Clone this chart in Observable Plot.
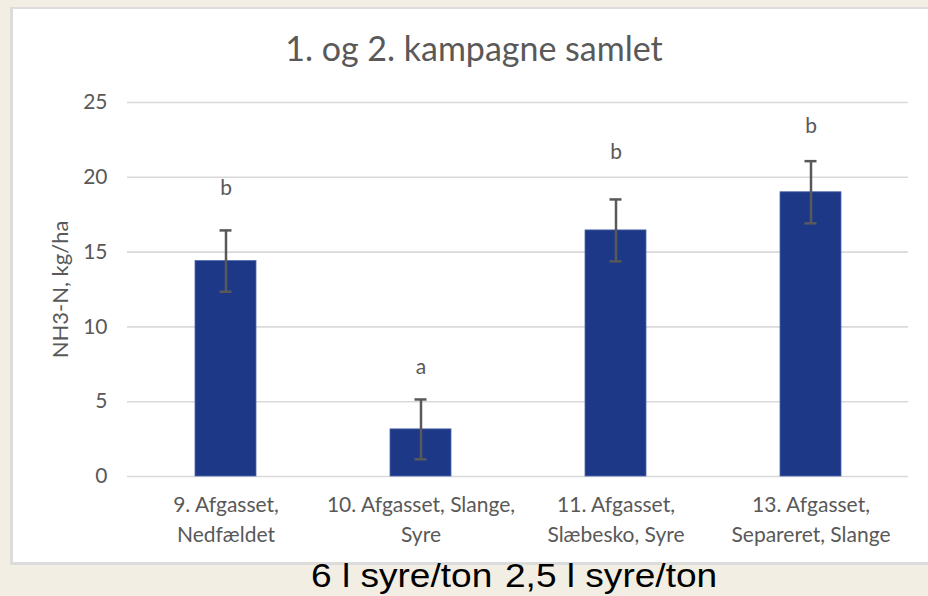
<!DOCTYPE html>
<html>
<head>
<meta charset="utf-8">
<script src="https://cdn.jsdelivr.net/npm/d3@7"></script>
<script src="https://cdn.jsdelivr.net/npm/@observablehq/plot@0.6"></script>
<style>
  html, body { margin: 0; padding: 0; }
  body { width: 928px; height: 596px; overflow: hidden; position: relative; background: #f2eee3; }
  #panel { position: absolute; left: 10px; top: 7px; width: 930px; height: 558px; box-sizing: border-box;
           background: #fff; border-top: 2px solid #dcdcdc; border-left: 3px solid #dcdcdc; border-bottom: 3px solid #dcdcdc; }
  #title { position: absolute; left: 10px; width: 928px; top: 31px; text-align: center;
           font-family: Lato, "Open Sans", sans-serif; font-size: 34px; line-height: 34px; color: #595959; }
  #chart { position: absolute; left: 0; top: 0; }
  .note { position: absolute; top: 558px; white-space: nowrap; transform-origin: 0 0; transform: scaleX(1.09);
          font-family: "Liberation Sans", Arial, sans-serif; font-size: 34px; line-height: 34px; color: #000; }
</style>
</head>
<body>
<div id="panel"></div>
<div id="title">1. og 2. kampagne samlet</div>
<div id="chart"></div>
<div class="note" style="left:311px">6 l syre/ton</div>
<div class="note" style="left:505px">2,5 l syre/ton</div>
<script>
const categories = ["9. Afgasset,\nNedfældet", "10. Afgasset, Slange,\nSyre", "11. Afgasset,\nSlæbesko, Syre", "13. Afgasset,\nSeparereret, Slange"];
categories[3] = categories[3].replace("Separereret", "Separeret");
const values = [14.4, 3.15, 16.45, 19.0];
const errors = [2.05, 2.0, 2.07, 2.08];
const letters = ["b", "a", "b", "b"];
const letterY = [19.3, 7.3, 21.7, 23.4];
const yTicks = [0, 5, 10, 15, 20, 25];

const data = categories.map((c, i) => ({cat: c, v: values[i], e: errors[i], lab: letters[i], ly: letterY[i]}));

const chart = Plot.plot({
  width: 928,
  height: 596,
  marginTop: 102,
  marginBottom: 120,
  marginLeft: 127,
  marginRight: 20,
  style: {fontFamily: "Lato, 'Open Sans', sans-serif", background: "transparent", overflow: "visible"},
  x: {domain: categories, paddingInner: 0.688, paddingOuter: 0.344, label: null},
  y: {domain: [0, 25], ticks: yTicks, label: null},
  marks: [
    Plot.gridY(yTicks, {stroke: "#d9d9d9", strokeOpacity: 1, strokeWidth: 1.6}),
    Plot.axisY(yTicks, {tickSize: 0, tickPadding: 20, fontSize: 21, color: "#595959", label: null}),
    Plot.axisX({tickSize: 0, tickPadding: 15, fontSize: 21, lineHeight: 1.4, color: "#595959", label: null}),
    Plot.barY(data, {x: "cat", y: "v", fill: "#1d3886", stroke: "#5068ad", strokeWidth: 0.8}),
    Plot.ruleX(data, {x: "cat", y1: d => d.v - d.e, y2: d => d.v + d.e, stroke: "#595959", strokeWidth: 2.5}),
    Plot.tickY(data, {x: "cat", y: d => d.v - d.e, stroke: "#595959", strokeWidth: 2.5, insetLeft: 24.5, insetRight: 24.5}),
    Plot.tickY(data, {x: "cat", y: d => d.v + d.e, stroke: "#595959", strokeWidth: 2.5, insetLeft: 24.5, insetRight: 24.5}),
    Plot.text(data, {x: "cat", y: "ly", text: "lab", fontSize: 21, fill: "#595959"}),
    Plot.text(["NH3-N, kg/ha"], {frameAnchor: "left", textAnchor: "middle", dx: -67, rotate: -90, fontSize: 22, fill: "#595959"})
  ]
});
document.getElementById("chart").appendChild(chart);
</script>
</body>
</html>
